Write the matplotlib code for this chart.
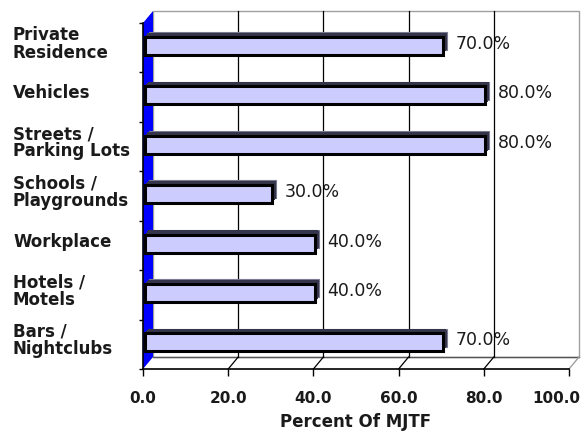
import numpy as np
import matplotlib
matplotlib.use('Agg')
import matplotlib.pyplot as plt
from matplotlib.patches import Polygon, Rectangle
from matplotlib.transforms import blended_transform_factory, ScaledTranslation

categories = ["Private\nResidence", "Vehicles", "Streets /\nParking Lots",
              "Schools /\nPlaygrounds", "Workplace", "Hotels /\nMotels",
              "Bars /\nNightclubs"]
values = [70, 80, 80, 30, 40, 40, 70]
xticks = [0, 20, 40, 60, 80, 100]
xlabel = "Percent Of MJTF"

W, H = 582, 432
fig = plt.figure(figsize=(W / 100, H / 100), dpi=100)
ax_l, ax_r, ax_t, ax_b = 143, 569, 23, 369
ax = fig.add_axes([ax_l / W, 1 - ax_b / H, (ax_r - ax_l) / W, (ax_b - ax_t) / H])
n = len(categories)
ax.set_xlim(0, 100)
ax.set_ylim(n - 0.5, -0.5)
ax.patch.set_visible(False)

px_x = 100 / (ax_r - ax_l)
px_y = n / (ax_b - ax_t)
DX, DY = 10 * px_x, -12 * px_y  # depth vector (right, up)
y0, y1 = -0.5, n - 0.5

# back wall
ax.add_patch(Rectangle((DX, y0 + DY), 100, n, facecolor='white', edgecolor='#a0a0a0',
                       lw=1, zorder=0.5, clip_on=False))
# back floor edge
ax.plot([DX, 100 + DX], [y1 + DY] * 2, color='#555555', lw=1, zorder=1.1, clip_on=False)
ax.plot([100, 100 + DX], [y1, y1 + DY], color='#a0a0a0', lw=1, zorder=1.1, clip_on=False)
# blue side wall
ax.add_patch(Polygon([(0, y1), (0, y0), (DX, y0 + DY), (DX, y1 + DY)], closed=True,
                     facecolor='#0000ff', edgecolor='none', zorder=1, clip_on=False))
# gridlines on back wall and floor
for x in xticks[1:-1]:
    ax.plot([x + DX] * 2, [y0 + DY, y1 + DY], color='black', lw=0.9, zorder=1.2, clip_on=False)
    ax.plot([x, x + DX], [y1, y1 + DY], color='black', lw=0.9, zorder=1.2, clip_on=False)

ypos = np.arange(n)
t0, tb = 0.15, 0.55
h = 18 * px_y
# depth of bars (top and right faces)
for t in np.linspace(t0 + 0.05, tb, 8):
    ax.barh(ypos + t * DY, values, left=t * DX, height=h, color='#34344a',
            edgecolor='none', zorder=2, clip_on=False)
ax.barh(ypos + tb * DY, values, left=tb * DX, height=h, color='#34344a',
        edgecolor='#7a7a90', lw=0.8, zorder=2.05, clip_on=False)
for t in np.linspace(t0 + 0.05, tb - 0.05, 6):
    ax.barh(ypos + t * DY, values, left=t * DX, height=h, color='#34344a',
            edgecolor='none', zorder=2.1, clip_on=False)
# front faces
ax.barh(ypos + t0 * DY, values, left=t0 * DX, height=h, color='#ccccff',
        edgecolor='black', lw=2.2, zorder=3, clip_on=False)

# value labels
for i, v in enumerate(values):
    ax.annotate(f"{v:.1f}%", xy=(v + t0 * DX, i + t0 * DY), xytext=(9, 1.5),
                textcoords='offset points', ha='left', va='center', fontsize=12.5,
                color='#1a1a1a', zorder=1.3)

# category labels
trans = blended_transform_factory(fig.transFigure, ax.transData)
for i, c in enumerate(categories):
    ax.text(13 / W, i + t0 * DY - 2 * px_y, c, transform=trans, ha='left', va='center',
            fontsize=12, fontweight='bold', color='#1a1a1a', linespacing=0.95)

# axes
for s in ['top', 'right']:
    ax.spines[s].set_visible(False)
for s in ['left', 'bottom']:
    ax.spines[s].set_color('black')
    ax.spines[s].set_linewidth(1.2)
    ax.spines[s].set_zorder(4)
ax.set_xticks(xticks)
ax.set_xticklabels([f"{x:.1f}" for x in xticks], fontsize=11, fontweight='bold', color='#1a1a1a')
ax.tick_params(axis='x', direction='out', length=5, width=1, pad=11, color='black')
last = ax.get_xticklabels()[-1]
last.set_transform(last.get_transform() + ScaledTranslation(-13 / 100, 0, fig.dpi_scale_trans))
ax.set_yticks(np.arange(n + 1) - 0.5)
ax.set_yticklabels([])
ax.tick_params(axis='y', direction='out', length=3, width=1, color='black')
ax.set_xlabel(xlabel, fontsize=12, fontweight='bold', color='#1a1a1a', labelpad=5)

fig.savefig('out.png', dpi=100)
